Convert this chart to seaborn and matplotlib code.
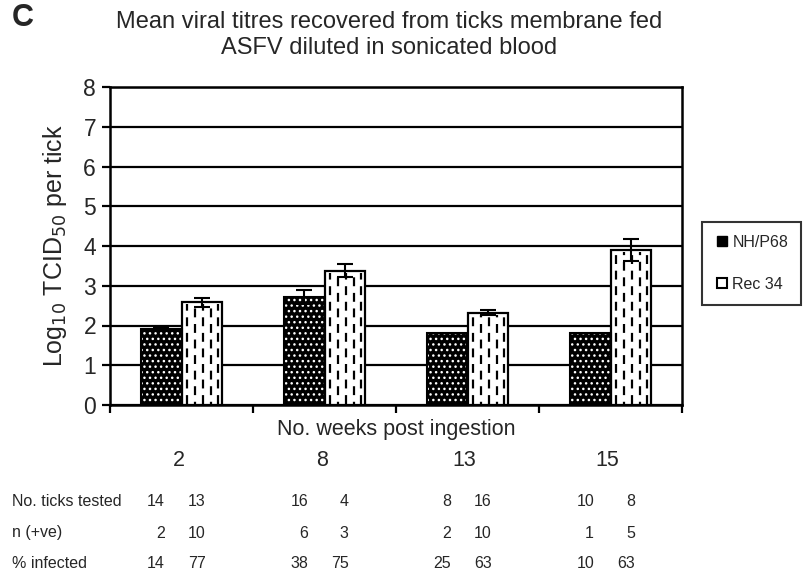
import numpy as np
import pandas as pd
import matplotlib
matplotlib.use("Agg")
import matplotlib.pyplot as plt
from matplotlib.patches import Rectangle
from matplotlib.lines import Line2D
import seaborn as sns

# ---- data ----
weeks = ["2", "8", "13", "15"]
series = ["NH/P68", "Rec 34"]
nh_mean = [1.92, 2.72, 1.80, 1.80]
nh_err = [0.05, 0.18, 0.0, 0.0]
rec_mean = [2.58, 3.38, 2.32, 3.90]
rec_err = [0.11, 0.16, 0.06, 0.27]
row_labels = ["No. ticks tested", "n (+ve)", "% infected"]
ticks_tested = [[14, 13], [16, 4], [8, 16], [10, 8]]
n_pos = [[2, 10], [6, 3], [2, 10], [1, 5]]
pct_infected = [[14, 77], [38, 75], [25, 63], [10, 63]]

df = pd.DataFrame({
    "week": weeks * 2,
    "strain": [series[0]] * 4 + [series[1]] * 4,
    "titre": nh_mean + rec_mean,
})

sns.set_theme(style="white")
plt.rcParams["font.family"] = ["Liberation Sans", "DejaVu Sans"]

fig = plt.figure(figsize=(8.08, 5.70), dpi=100)
ax = fig.add_axes([110 / 808, 1 - 405 / 570, (682 - 110) / 808, (405 - 87) / 570])

sns.barplot(data=df, x="week", y="titre", hue="strain", order=weeks,
            hue_order=series, palette=["black", "white"], width=0.56,
            errorbar=None, ax=ax, legend=False, zorder=3)

ax.set_ylim(0, 8)
ax.set_xlim(-0.5, 3.5)
ax.set_yticks(range(0, 9))
ax.yaxis.grid(True, color="black", linewidth=1.6, zorder=0)
ax.set_axisbelow(True)
for s in ax.spines.values():
    s.set_color("black")
    s.set_linewidth(1.8)
ax.tick_params(axis="y", left=True, length=6, width=1.6, color="black",
               labelsize=16.5, pad=4)
ax.set_xticks([])
ax.set_xticks(np.arange(-0.5, 4.0, 1.0), minor=True)
ax.tick_params(axis="x", which="minor", bottom=True, length=6, width=1.6,
               color="black")
ax.set_xlabel("")
ax.set_ylabel(r"Log$_{10}$ TCID$_{50}$ per tick", fontsize=18, labelpad=10)

nh_bars, rec_bars = ax.containers[0], ax.containers[1]

# NH/P68: black with white dots
for p in nh_bars.patches:
    p.set_facecolor("black")
    p.set_edgecolor("white")
    p.set_hatch("...")
    p.set_linewidth(0)
    ax.add_patch(Rectangle(p.get_xy(), p.get_width(), p.get_height(),
                           fill=False, edgecolor="black", linewidth=1.5,
                           zorder=3.5))

# Rec 34: white with dashed vertical lines
for p in rec_bars.patches:
    p.set_facecolor("white")
    p.set_edgecolor("black")
    p.set_linewidth(1.6)
    x0, w, h = p.get_x(), p.get_width(), p.get_height()
    for k, fx in enumerate([0.13, 0.33, 0.53, 0.73, 0.92]):
        ax.vlines(x0 + fx * w, 0.03, h - 0.05, colors="black",
                  linewidth=1.6, linestyles=(3 * (k % 2), (4, 3)), zorder=3.6)

# error bars
nh_x = [p.get_x() + p.get_width() / 2 for p in nh_bars.patches]
rec_x = [p.get_x() + p.get_width() / 2 for p in rec_bars.patches]
for xs, ms, es in [(nh_x, nh_mean, nh_err), (rec_x, rec_mean, rec_err)]:
    for x, m, e in zip(xs, ms, es):
        if e > 0:
            ax.errorbar([x], [m], yerr=[e], fmt="none", ecolor="black",
                        elinewidth=1.5, capsize=6, capthick=1.5, zorder=5)

# title and panel label
fig.text(389 / 808, 1 - 22 / 570, "Mean viral titres recovered from ticks membrane fed",
         ha="center", va="center", fontsize=17)
fig.text(389 / 808, 1 - 48 / 570, "ASFV diluted in sonicated blood",
         ha="center", va="center", fontsize=17)
fig.text(12 / 808, 1 - 18 / 570, "C", ha="left", va="center", fontsize=22,
         fontweight="bold")

# x label and week labels
trans = ax.get_xaxis_transform()
ax.text(1.5, -(429 - 405) / 318, "No. weeks post ingestion", transform=trans,
        ha="center", va="center", fontsize=15.5)
for i, wk in enumerate(weeks):
    ax.text(i - 0.02, -(461 - 405) / 318, wk, transform=trans, ha="center",
            va="center", fontsize=15.5)

# table below
row_y = [502, 533, 563]
rows = [ticks_tested, n_pos, pct_infected]
for lab, yy, vals in zip(row_labels, row_y, rows):
    fig.text(12 / 808, 1 - yy / 570, lab, ha="left", va="center", fontsize=11.5)
    for i, (a, b) in enumerate(vals):
        ax.text(i - 0.115, -(yy - 405) / 318, str(a), transform=trans,
                ha="right", va="center", fontsize=11.5)
        ax.text(i + 0.17, -(yy - 405) / 318, str(b), transform=trans,
                ha="right", va="center", fontsize=11.5)

# legend
handles = [
    Line2D([], [], marker="s", linestyle="none", markersize=7,
           markerfacecolor="black", markeredgecolor="black"),
    Line2D([], [], marker="s", linestyle="none", markersize=7,
           markerfacecolor="white", markeredgecolor="black",
           markeredgewidth=1.5),
]
leg = fig.legend(handles, series, loc="upper left",
                 bbox_to_anchor=(702 / 808, 1 - 222 / 570), frameon=True,
                 fontsize=11.5, labelspacing=1.7, handletextpad=0.2,
                 handlelength=0.9, borderpad=0.8, borderaxespad=0,
                 fancybox=False)
leg.get_frame().set_edgecolor("black")
leg.get_frame().set_linewidth(1.5)

fig.savefig("out.png", dpi=100)
